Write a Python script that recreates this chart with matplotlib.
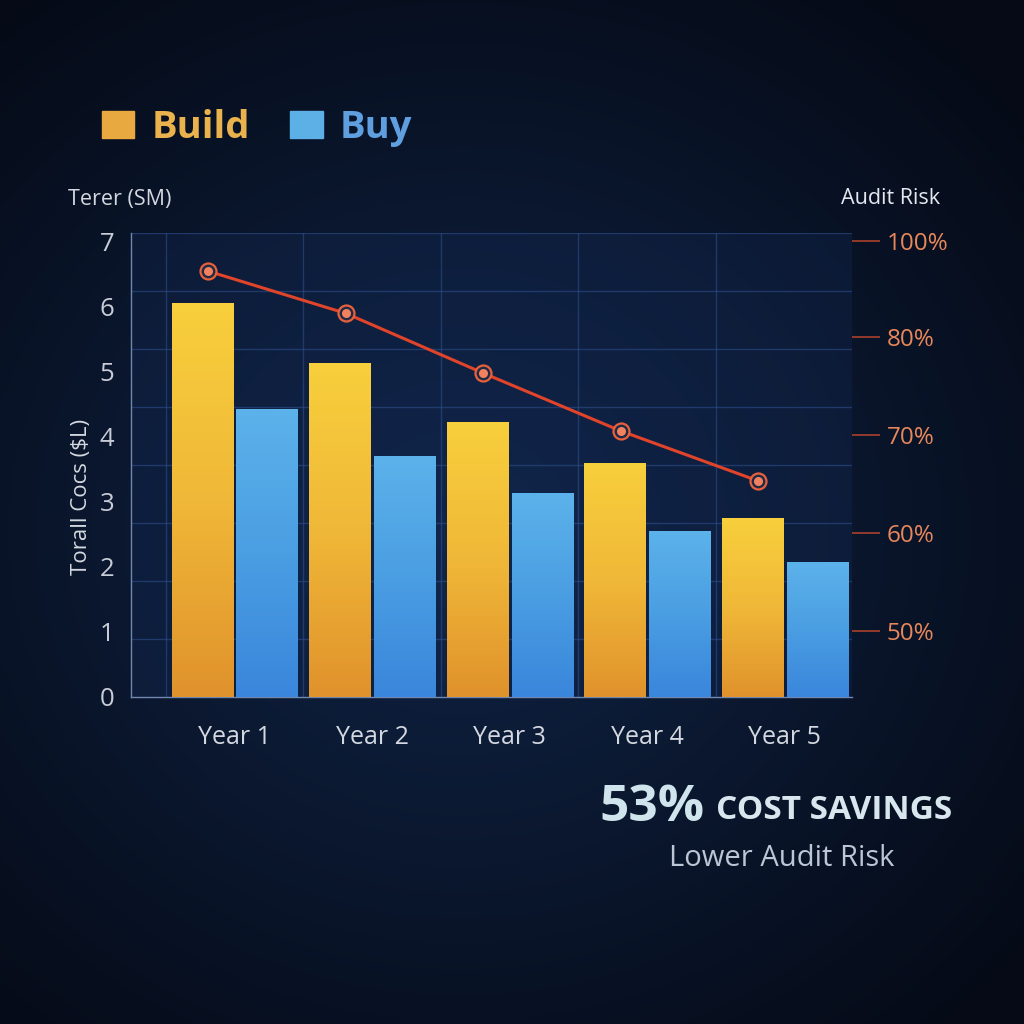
import numpy as np
import matplotlib
matplotlib.use("Agg")
import matplotlib.pyplot as plt
from matplotlib.colors import LinearSegmentedColormap
from matplotlib.patches import Patch

plt.rcParams['font.family'] = ['Open Sans', 'DejaVu Sans']

# ---------------- data ----------------
years = ["Year 1", "Year 2", "Year 3", "Year 4", "Year 5"]
build_cost = [6.05, 5.14, 4.22, 3.59, 2.75]
buy_cost = [4.42, 3.70, 3.13, 2.55, 2.07]
audit_risk = [86.7, 82.4, 76.3, 70.4, 65.3]
cost_ticks = [0, 1, 2, 3, 4, 5, 6, 7]
risk_ticks = [89.8, 80, 70, 60, 50]
risk_tick_labels = ["100%", "80%", "70%", "60%", "50%"]

W = H = 1024
fig = plt.figure(figsize=(10.24, 10.24), dpi=100)

# background radial gradient
bg = fig.add_axes([0, 0, 1, 1], zorder=-10)
yy, xx = np.mgrid[0:1:400j, 0:1:400j]
r = np.sqrt((xx - 0.45) ** 2 + ((yy - 0.52) * 1.1) ** 2)
t = np.clip(r / 0.72, 0, 1)
c_center = np.array([16, 36, 70]) / 255
c_edge = np.array([5, 10, 22]) / 255
img = c_center[None, None, :] * (1 - t[..., None]) + c_edge[None, None, :] * t[..., None]
bg.imshow(img, extent=[0, 1, 0, 1], aspect='auto', origin='upper')
bg.axis('off')

def fx(px):
    return px / W

def fy(py):
    return 1 - py / H

ax = fig.add_axes([fx(131), fy(697), fx(852) - fx(131), fy(233) - fy(697)])
ax.set_facecolor((0.08, 0.17, 0.35, 0.3))
x = np.arange(len(years))
off = 0.236
bw = 0.444
ymax = 7.13
ax.set_xlim(-0.753, 4.49)
ax.set_ylim(0, ymax)

build_bars = ax.bar(x - off, build_cost, width=bw, color='#eeb535', label='Build', zorder=3)
buy_bars = ax.bar(x + off, buy_cost, width=bw, color='#4c9fe2', label='Buy', zorder=3)

cm_build = LinearSegmentedColormap.from_list('b', ['#e0922c', '#f0b838', '#f8cf3c'])
cm_buy = LinearSegmentedColormap.from_list('u', ['#3a86dc', '#4a9ee2', '#5cb2ea'])
grad = np.linspace(0, 1, 256)[:, None]
for bars, cm in ((build_bars, cm_build), (buy_bars, cm_buy)):
    for b in bars:
        x0, y0 = b.get_x(), b.get_y()
        im = ax.imshow(grad, cmap=cm, origin='lower', aspect='auto',
                       extent=[x0, x0 + b.get_width(), y0, y0 + b.get_height()], zorder=4)
        im.set_clip_path(b)
ax.set_xlim(-0.753, 4.49)
ax.set_ylim(0, ymax)

# grid
ax.set_xticks(np.arange(-0.5, 5.0, 1.0), minor=True)
ax.set_yticks(np.linspace(0, ymax, 9), minor=True)
ax.grid(which='minor', color='#2f5290', lw=1.0, alpha=0.55, zorder=1)
ax.grid(which='major', visible=False)
ax.tick_params(which='minor', length=0)

ax.set_xticks(x)
ax.set_xticklabels(years)
ax.set_yticks(cost_ticks)
ax.tick_params(axis='x', length=0, pad=20, labelsize=18, labelcolor='#d4d8e0')
ax.tick_params(axis='y', length=0, pad=12, labelsize=18.5, labelcolor='#c8ccd6')
for s in ('top', 'right'):
    ax.spines[s].set_visible(False)
for s in ('left', 'bottom'):
    ax.spines[s].set_color('#7088b0')
    ax.spines[s].set_linewidth(1.0)

# twin axis for audit risk
ax2 = ax.twinx()
ax2.set_ylim(43.27, 90.6)
ax2.set_xlim(-0.753, 4.49)
ax2.plot(x - 0.19, audit_risk, color='#e0442a', lw=2.2, zorder=5)
ax2.plot(x - 0.19, audit_risk, 'o', ms=11.5, mfc='#1f2a45', mec='#e8603c', mew=1.6, zorder=6)
ax2.plot(x - 0.19, audit_risk, 'o', ms=6.5, mfc='#f2825f', mec='none', zorder=7)
ax2.set_yticks(risk_ticks)
ax2.set_yticklabels(risk_tick_labels)
ax2.tick_params(axis='y', direction='out', length=20, width=1.1, color='#b8442c',
                pad=5, labelsize=17.5, labelcolor='#e8875a')
for s in ax2.spines.values():
    s.set_visible(False)

# legend
leg = fig.legend(handles=[Patch(color='#e8aa40', label='Build'), Patch(color='#5cb0e6', label='Buy')],
                 loc='center left', bbox_to_anchor=(fx(102), fy(128)), ncol=2, frameon=False,
                 prop={'family': 'Open Sans', 'weight': 'bold', 'size': 27.5},
                 handlelength=0.85, handleheight=0.72, handletextpad=0.45, columnspacing=1.05,
                 borderpad=0, borderaxespad=0)
for txt, c in zip(leg.get_texts(), ['#eab24c', '#5f9fe0']):
    txt.set_color(c)

# texts
fig.text(fx(68), fy(200), "Terer (SM)", color='#d4d8e0', fontsize=15.5, va='center', ha='left')
fig.text(fx(81), fy(497), "Torall Cocs ($L)", color='#d4d8e0', fontsize=16, rotation=90,
         va='center', ha='center')
fig.text(fx(841), fy(199), "Audit Risk", color='#e4e8f0', fontsize=15.5, va='center', ha='left')

fig.text(fx(599), fy(821), "53%", color='#cfe4ec', fontsize=37, fontweight='bold',
         va='baseline', ha='left')
fig.text(fx(716), fy(819), "COST SAVINGS", color='#d8e6ee', fontsize=24, fontweight='bold',
         va='baseline', ha='left')
fig.text(fx(782), fy(858), "Lower Audit Risk", color='#bcc6d4', fontsize=21, va='center', ha='center')

fig.savefig("out.png", dpi=100)
